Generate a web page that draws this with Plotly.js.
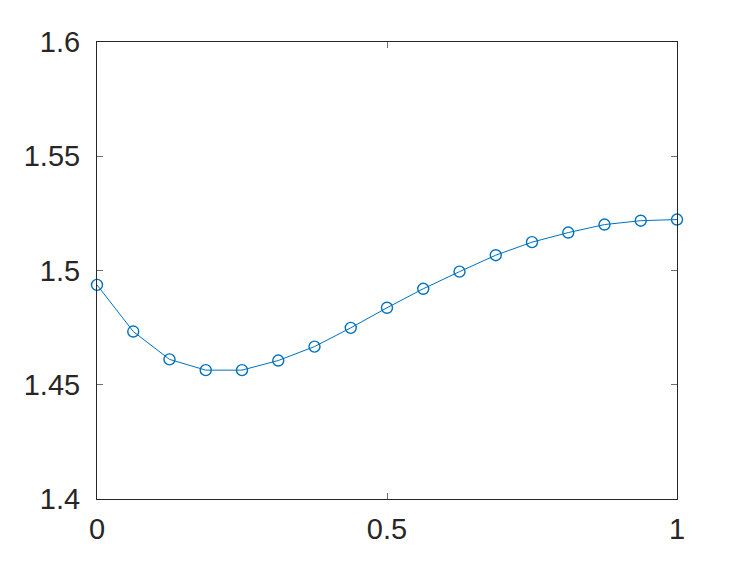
<!DOCTYPE html>
<html>
<head>
<meta charset="utf-8">
<script src="https://cdn.plot.ly/plotly-3.0.1.min.js"></script>
<style>
html, body {margin: 0; padding: 0; background: #fff;}
#plot {width: 747px; height: 561px;}
</style>
</head>
<body>
<div id="plot"></div>
<script>
"use strict";

// data
const xs = [0, 0.0625, 0.125, 0.1875, 0.25, 0.3125, 0.375, 0.4375, 0.5,
	0.5625, 0.625, 0.6875, 0.75, 0.8125, 0.875, 0.9375, 1];
const ys = [1.4937, 1.4733, 1.4611, 1.4564, 1.4564, 1.4606, 1.4667, 1.4749, 1.4837,
	1.4920, 1.4995, 1.5067, 1.5124, 1.5166, 1.5201, 1.5218, 1.5223];

const xTicks = [0, 0.5, 1];
const xTickText = ["0", "0.5", "1"];
const yTicks = [1.4, 1.45, 1.5, 1.55, 1.6];
const yTickText = ["1.4", "1.45", "1.5", "1.55", "1.6"];

const blue = "#0072BD";

const trace = {
	x: xs, y: ys,
	type: 'scatter',
	mode: 'lines+markers',
	line: {color: blue, width: 1},
	marker: {symbol: 'circle-open', size: 11, color: blue, line: {width: 1.4, color: blue}},
	cliponaxis: false,
	hoverinfo: 'skip'
};

function axis(vals, txt, range){
	return {
		range: range,
		tickvals: vals,
		ticktext: txt,
		ticks: 'inside',
		ticklen: 6,
		tickwidth: 1,
		tickcolor: '#6e6e6e',
		showline: true,
		linecolor: '#262626',
		linewidth: 1,
		mirror: 'ticks',
		showgrid: false,
		zeroline: false,
		fixedrange: true,
		tickfont: {family: 'Liberation Sans, Arial, sans-serif', size: 29, color: '#262626'}
	};
}

const layout = {
	width: 747, height: 561,
	margin: {l: 97, r: 70, t: 42, b: 62, pad: 0},
	paper_bgcolor: '#fff',
	plot_bgcolor: '#fff',
	showlegend: false,
	xaxis: axis(xTicks, xTickText, [0, 1]),
	yaxis: axis(yTicks, yTickText, [1.4, 1.6])
};
layout.xaxis.ticklabelstandoff = 4;
layout.yaxis.ticklabelstandoff = 10;

Plotly.newPlot('plot', [trace], layout, {displayModeBar: false, staticPlot: true});
</script>
</body>
</html>
